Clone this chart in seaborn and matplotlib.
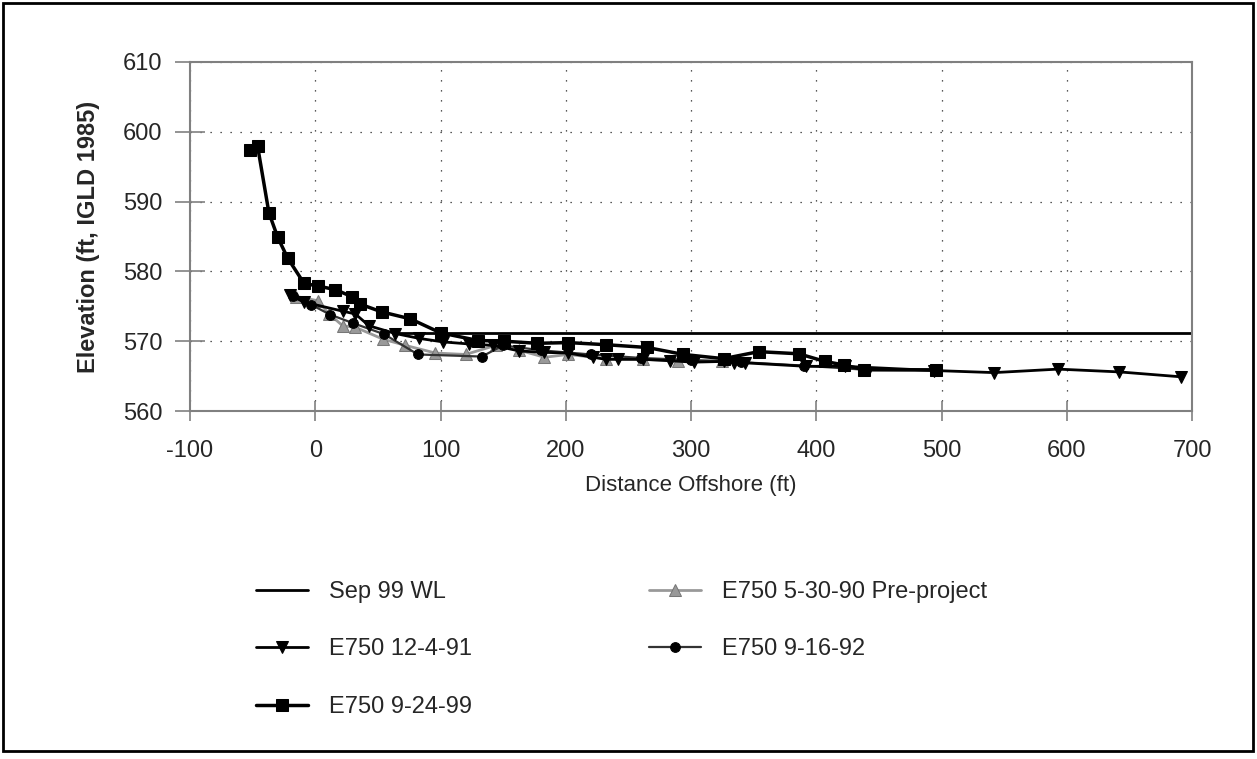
import numpy as np
import matplotlib
matplotlib.use('Agg')
import matplotlib.pyplot as plt
from matplotlib.patches import Rectangle
from matplotlib.ticker import MultipleLocator
import seaborn as sns

# profile data (distance offshore ft, elevation ft IGLD 1985)
wl_x = [65, 700]
wl_y = [571.2, 571.2]

pre_x = [-15, 2, 11, 22, 32, 54, 72, 96, 120, 144, 163, 183, 202, 232, 262, 290, 325]
pre_y = [576.4, 575.8, 573.9, 572.2, 572.0, 570.3, 569.4, 568.3, 568.1, 569.4, 568.7,
         567.7, 568.1, 567.5, 567.4, 567.2, 567.2]

e91_x = [-20, -9, 22, 32, 43, 64, 83, 102, 123, 142, 163, 183, 202, 222, 232, 242,
         262, 283, 302, 326, 334, 343, 392, 423, 494, 542, 593, 642, 691]
e91_y = [576.6, 575.6, 574.3, 573.9, 572.2, 571.1, 570.4, 569.9, 569.6, 569.4, 568.6,
         568.4, 568.3, 567.7, 567.4, 567.4, 567.4, 567.2, 567.0, 567.1, 566.9, 566.9,
         566.4, 566.4, 565.8, 565.5, 566.0, 565.6, 564.9]

e92_x = [-18, -3, 12, 30, 55, 82, 133, 150, 180, 220, 260, 300, 340, 390, 440, 496]
e92_y = [576.5, 575.2, 573.8, 572.6, 571.0, 568.1, 567.8, 569.4, 568.7, 568.1, 567.6,
         567.3, 567.0, 566.5, 565.9, 565.8]

e99_x = [-52, -46, -37, -30, -22, -9, 2, 16, 29, 36, 53, 76, 100, 130, 151, 177, 202,
         232, 265, 294, 326, 354, 386, 407, 422, 438, 496]
e99_y = [597.4, 597.9, 588.4, 584.9, 581.9, 578.3, 577.9, 577.4, 576.4, 575.3, 574.2,
         573.2, 571.2, 570.1, 570.0, 569.7, 569.8, 569.5, 569.1, 568.1, 567.5, 568.5,
         568.2, 567.1, 566.6, 565.9, 565.9]

sns.set_style('white')
plt.rcParams['font.family'] = ['Liberation Sans', 'DejaVu Sans']
plt.rcParams['axes.unicode_minus'] = False

fig = plt.figure(figsize=(12.57, 7.59), dpi=100)
ax = fig.add_axes([190/1257, 1-411/759, (1192-190)/1257, (411-62)/759])

# gray pre-project first so the black ones sit on top
sns.lineplot(x=pre_x, y=pre_y, ax=ax, color='#999999', lw=2, marker='^', ms=8,
             markeredgecolor='#777777', label='E750 5-30-90 Pre-project')
sns.lineplot(x=e92_x, y=e92_y, ax=ax, color='#333333', lw=1.6, marker='o', ms=7,
             markeredgecolor='black', markerfacecolor='black', label='E750 9-16-92')
sns.lineplot(x=e91_x, y=e91_y, ax=ax, color='black', lw=2, marker='v', ms=8,
             markeredgecolor='black', label='E750 12-4-91')
sns.lineplot(x=e99_x, y=e99_y, ax=ax, color='black', lw=2.5, marker='s', ms=9,
             markeredgecolor='black', label='E750 9-24-99')
sns.lineplot(x=wl_x, y=wl_y, ax=ax, color='black', lw=2, label='Sep 99 WL')

ax.set_xlim(-100, 700)
ax.set_ylim(560, 610)
ax.xaxis.set_major_locator(MultipleLocator(100))
ax.xaxis.set_minor_locator(MultipleLocator(50))
ax.yaxis.set_major_locator(MultipleLocator(10))
ax.yaxis.set_minor_locator(MultipleLocator(5))
ax.grid(True, which='major', color='#222222', lw=0.9, linestyle=(0, (1, 7)))

for s in ax.spines.values():
    s.set_color('#808080')
    s.set_linewidth(1.5)
ax.tick_params(axis='both', which='both', direction='inout', color='#808080',
               width=1.2, labelsize=17)
ax.tick_params(axis='y', which='major', length=22, pad=9)
ax.tick_params(axis='y', which='minor', length=13)
ax.tick_params(axis='x', which='major', length=14, pad=14)
ax.tick_params(axis='x', which='minor', length=9)
ax.tick_params(left=True, bottom=True)

ax.set_xlabel('Distance Offshore (ft)', fontsize=16, labelpad=9)
ax.set_ylabel('Elevation (ft, IGLD 1985)', fontsize=17, fontweight='bold', labelpad=16)

# legend below the plot, same order as original
h, l = ax.get_legend_handles_labels()
order = ['Sep 99 WL', 'E750 12-4-91', 'E750 9-24-99', 'E750 5-30-90 Pre-project', 'E750 9-16-92']
hd = dict(zip(l, h))
ax.get_legend().remove()
fig.legend([hd[k] for k in order], order, ncol=2, frameon=False, fontsize=17,
           loc='upper left', bbox_to_anchor=(256/1257, 1-581/759),
           borderaxespad=0, borderpad=0, handlelength=2.2, handletextpad=0.9,
           labelspacing=1.5, columnspacing=7.5)

# outer border around whole chart
fig.patches.append(Rectangle((3/1257, 8/759), 1250/1257, 748/759, transform=fig.transFigure,
                             fill=False, edgecolor='black', lw=2))

fig.savefig('out.png', dpi=100)
